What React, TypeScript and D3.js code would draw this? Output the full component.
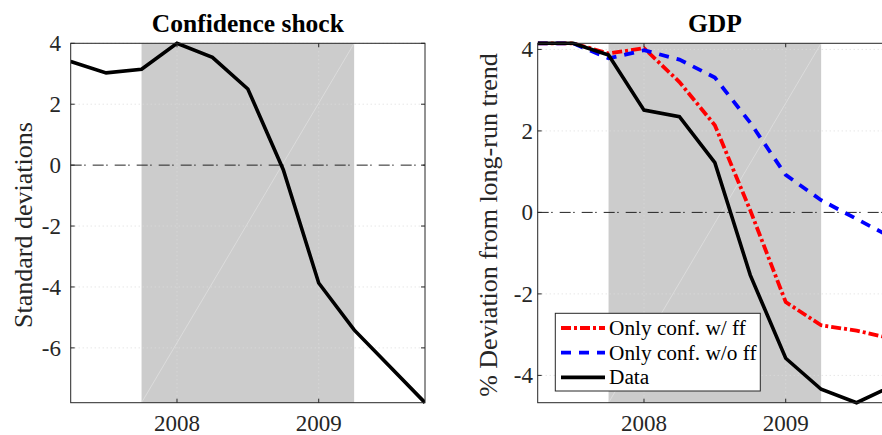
import * as d3 from "d3";

// quarterly observations, 2007Q2 .. 2009Q4
const quarters = [2007.25, 2007.5, 2007.75, 2008, 2008.25, 2008.5, 2008.75, 2009, 2009.25, 2009.5, 2009.75];
const confidence = [3.4, 3.03, 3.15, 4.0, 3.54, 2.5, -0.15, -3.87, -5.41, -6.6, -7.8];
const gdpData = [4.15, 4.15, 3.86, 2.51, 2.35, 1.22, -1.54, -3.58, -4.34, -4.67, -4.26];
const gdpWithFF = [4.15, 4.15, 3.9, 4.03, 3.2, 2.14, 0.05, -2.2, -2.77, -2.9, -3.1];
const gdpWithoutFF = [4.15, 4.15, 3.78, 3.98, 3.75, 3.31, 2.2, 0.92, 0.3, -0.16, -0.62];

const recession = [2007.75, 2009.25];
const yearTicks = [2008, 2009];
const leftTicks = [-6, -4, -2, 0, 2, 4];
const rightTicks = [-4, -2, 0, 2, 4];
const legendNames = ["Only conf. w/ ff", "Only conf. w/o ff", "Data"];

const FONT = "'Liberation Serif', 'Times New Roman', serif";
const AXIS = "#262626";

type Series = { values: number[]; color: string; dash?: string; width: number };

function Panel({
  x0, x1, title, ylabel, ylabelX, yDomain, yTicks, tickLabelX, series, legend,
}: {
  x0: number; x1: number; title: string; ylabel: string; ylabelX: number;
  yDomain: [number, number]; yTicks: number[]; tickLabelX: number;
  series: Series[]; legend?: boolean;
}) {
  const top = 43.3;
  const bottom = 402.7;
  const x = d3.scaleLinear().domain([2007.25, 2009.75]).range([x0, x1]);
  const y = d3.scaleLinear().domain(yDomain).range([bottom, top]);
  const line = d3.line<number>().x((_, i) => x(quarters[i])).y((d) => y(d));
  const clipId = "clip" + Math.round(x0);
  const tl = 4;

  return (
    <g>
      <defs>
        <clipPath id={clipId}>
          <rect x={x0} y={top - 3} width={x1 - x0} height={bottom - top + 6} />
        </clipPath>
      </defs>
      <rect x={x(recession[0])} y={top} width={x(recession[1]) - x(recession[0])} height={bottom - top} fill="#cccccc" />
      <line x1={x(recession[0])} y1={bottom} x2={x(recession[1])} y2={top} stroke="#e6e6e6" strokeWidth={0.6} />
      {yTicks.filter((t) => t !== 0).map((t) => (
        <line key={"gy" + t} x1={x0} x2={x1} y1={y(t)} y2={y(t)} stroke="#dcdcdc" strokeDasharray="1,3" strokeWidth={1} />
      ))}
      {yearTicks.map((t) => (
        <line key={"gx" + t} x1={x(t)} x2={x(t)} y1={top} y2={bottom} stroke="#dcdcdc" strokeDasharray="1,3" strokeWidth={1} />
      ))}
      <line x1={x0} x2={x1} y1={y(0)} y2={y(0)} stroke="#222" strokeWidth={1} strokeDasharray="11,2.5,1.5,7" />
      <g clipPath={`url(#${clipId})`}>
        {series.map((s, i) => (
          <path key={i} d={line(s.values) ?? ""} fill="none" stroke={s.color} strokeWidth={s.width}
            strokeDasharray={s.dash} strokeLinejoin="miter" />
        ))}
      </g>
      {/* box and ticks */}
      <rect x={x0} y={top} width={x1 - x0} height={bottom - top} fill="none" stroke={AXIS} strokeWidth={1} />
      {yTicks.map((t) => (
        <g key={"ty" + t}>
          <line x1={x0} x2={x0 + tl} y1={y(t)} y2={y(t)} stroke={AXIS} />
          <line x1={x1} x2={x1 - tl} y1={y(t)} y2={y(t)} stroke={AXIS} />
          <text x={tickLabelX} y={y(t) + 8} textAnchor="end" fontSize={23} fontFamily={FONT} fill={AXIS}>{t}</text>
        </g>
      ))}
      {yearTicks.map((t) => (
        <g key={"tx" + t}>
          <line x1={x(t)} x2={x(t)} y1={bottom} y2={bottom - tl} stroke={AXIS} />
          <line x1={x(t)} x2={x(t)} y1={top} y2={top + tl} stroke={AXIS} />
          <text x={x(t)} y={431} textAnchor="middle" fontSize={23} fontFamily={FONT} fill={AXIS}>{t}</text>
        </g>
      ))}
      <text x={(x0 + x1) / 2} y={32} textAnchor="middle" fontSize={25.5} fontWeight="bold" fontFamily={FONT} fill="#000">{title}</text>
      <text transform={`translate(${ylabelX},225) rotate(-90)`} textAnchor="middle" fontSize={26} fontFamily={FONT} fill={AXIS}>{ylabel}</text>
      {legend && (
        <g>
          <rect x={555.3} y={313.3} width={205} height={77.7} fill="#fff" stroke={AXIS} strokeWidth={1} />
          {series.map((s, i) => (
            <g key={"lg" + i}>
              <line x1={561} x2={605} y1={328 + i * 24.7} y2={328 + i * 24.7} stroke={s.color} strokeWidth={s.width}
                strokeDasharray={s.dash} />
              <text x={609} y={328 + i * 24.7 + 7} fontSize={21.3} fontFamily={FONT} fill="#000">{legendNames[i]}</text>
            </g>
          ))}
        </g>
      )}
    </g>
  );
}

export default function App() {
  return (
    <svg width={882} height={435} style={{ position: "absolute", left: 0, top: 0, background: "#fff" }}>
      <rect width={882} height={435} fill="#fff" />
      <Panel x0={70.7} x1={425} title="Confidence shock" ylabel="Standard deviations" ylabelX={32}
        yDomain={[-7.8, 4]} yTicks={leftTicks} tickLabelX={61}
        series={[{ values: confidence, color: "#000", width: 3.6 }]} />
      <Panel x0={537.7} x1={892} title="GDP" ylabel="% Deviation from long-run trend" ylabelX={497}
        yDomain={[-4.67, 4.15]} yTicks={rightTicks} tickLabelX={533}
        series={[
          { values: gdpWithFF, color: "#ff0000", width: 3.8, dash: "10,3,3,3" },
          { values: gdpWithoutFF, color: "#0000ff", width: 3.8, dash: "10,8" },
          { values: gdpData, color: "#000", width: 3.6 },
        ]} legend />
    </svg>
  );
}
